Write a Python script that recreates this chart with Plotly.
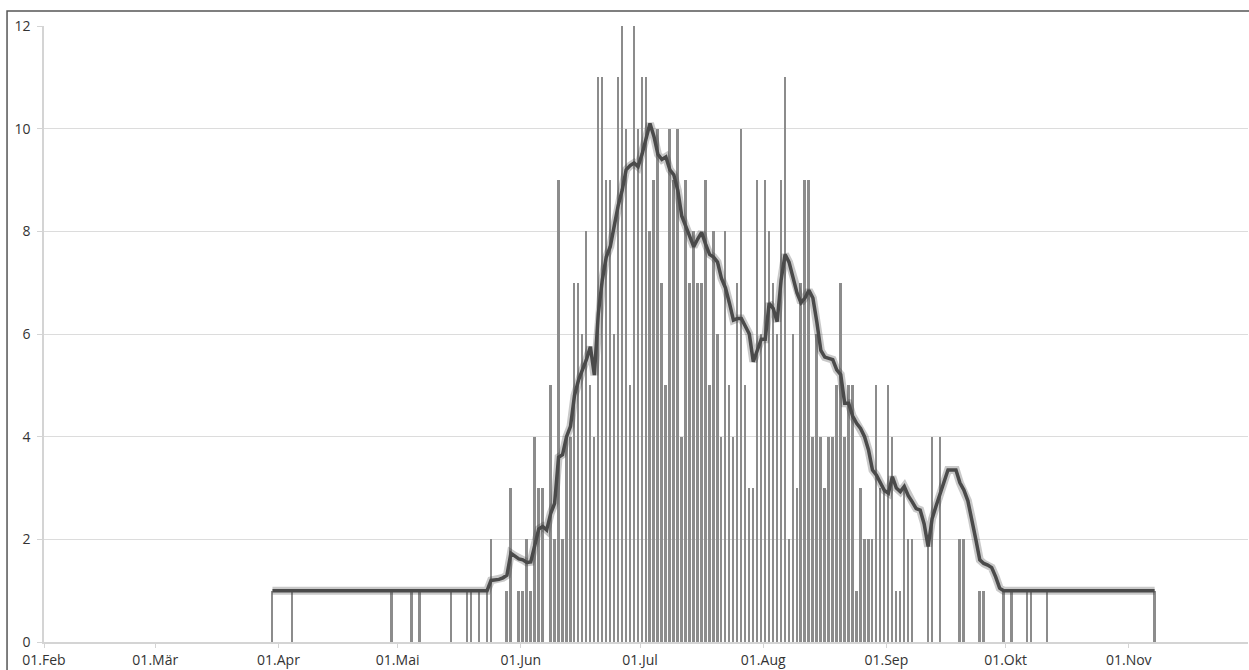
import datetime as dt
import plotly.graph_objects as go

YEAR = 2023

# ---- daily counts (bars), one list per month; first day of each list given ----
counts_mar = [1, 0]  # starts 30.03.
counts_apr = [0, 0, 0, 1, 0, 0, 0, 0, 0, 0, 0, 0, 0, 0, 0, 0, 0, 0, 0, 0,
              0, 0, 0, 0, 0, 0, 0, 0, 1, 0]
counts_mai = [0, 0, 0, 1, 0, 1, 0, 0, 0, 0, 0, 0, 0, 1, 0, 0, 0, 1, 1, 0,
              1, 0, 1, 2, 0, 0, 0, 1, 3, 0, 1]
counts_jun = [1, 2, 1, 4, 3, 3, 0, 5, 2, 9, 2, 4, 4, 7, 7, 6, 8, 5, 4, 11,
              11, 9, 9, 6, 11, 12, 10, 5, 12, 10]
counts_jul = [11, 11, 8, 9, 10, 7, 5, 10, 9, 10, 4, 9, 7, 8, 7, 7, 9, 5, 8, 6,
              4, 8, 5, 4, 7, 10, 5, 3, 3, 9, 6]
counts_aug = [9, 8, 7, 6, 9, 11, 2, 6, 3, 7, 9, 9, 4, 6, 4, 3, 4, 4, 5, 7,
              4, 5, 5, 1, 3, 2, 2, 2, 5, 3, 3]
counts_sep = [5, 4, 1, 1, 3, 2, 2, 0, 0, 0, 2, 4, 0, 4, 0, 0, 0, 0, 2, 2,
              0, 0, 0, 1, 1, 0, 0, 0, 0, 1]
counts_okt = [0, 1, 0, 0, 0, 1, 1, 0, 0, 0, 1, 0, 0, 0, 0, 0, 0, 0, 0, 0,
              0, 0, 0, 0, 0, 0, 0, 0, 0, 0, 0]
counts_nov = [0, 0, 0, 0, 0, 0, 1]

month_blocks = [
    ((3, 30), counts_mar), ((4, 1), counts_apr), ((5, 1), counts_mai),
    ((6, 1), counts_jun), ((7, 1), counts_jul), ((8, 1), counts_aug),
    ((9, 1), counts_sep), ((10, 1), counts_okt), ((11, 1), counts_nov),
]

# ---- moving average line ----
line_days = [
    "03-30", "05-23", "05-24", "05-26", "05-27", "05-28", "05-29", "05-30", "05-31",
    "06-01", "06-02", "06-03", "06-04", "06-05", "06-06", "06-07", "06-08", "06-09",
    "06-10", "06-11", "06-12", "06-13", "06-14", "06-15", "06-16", "06-17", "06-18",
    "06-19", "06-20", "06-21", "06-22", "06-23", "06-24", "06-25", "06-26", "06-27",
    "06-28", "06-29", "06-30", "07-01", "07-02", "07-03", "07-04", "07-05", "07-06",
    "07-07", "07-08", "07-09", "07-10", "07-11", "07-12", "07-13", "07-14", "07-15",
    "07-16", "07-17", "07-18", "07-19", "07-20", "07-21", "07-22", "07-23", "07-24",
    "07-25", "07-26", "07-27", "07-28", "07-29", "07-30", "07-31", "08-01", "08-02",
    "08-03", "08-04", "08-05", "08-06", "08-07", "08-08", "08-09", "08-10", "08-11",
    "08-12", "08-13", "08-14", "08-15", "08-16", "08-17", "08-18", "08-19", "08-20",
    "08-21", "08-22", "08-23", "08-24", "08-25", "08-26", "08-27", "08-28", "08-29",
    "08-30", "08-31", "09-01", "09-02", "09-03", "09-04", "09-05", "09-06", "09-07",
    "09-08", "09-09", "09-10", "09-11", "09-12", "09-13", "09-14", "09-15", "09-16",
    "09-17", "09-18", "09-19", "09-20", "09-21", "09-22", "09-23", "09-24", "09-25",
    "09-26", "09-27", "09-28", "09-29", "09-30", "11-07",
]
line_values = [
    1.0, 1.0, 1.2, 1.22, 1.25, 1.3, 1.73, 1.68, 1.62,
    1.6, 1.55, 1.56, 1.9, 2.2, 2.25, 2.18, 2.5, 2.7,
    3.6, 3.65, 4.0, 4.2, 4.8, 5.1, 5.3, 5.5, 5.75,
    5.2, 6.4, 7.05, 7.5, 7.7, 8.1, 8.5, 8.8, 9.2,
    9.28, 9.33, 9.26, 9.5, 9.8, 10.1, 9.85, 9.5, 9.4,
    9.45, 9.2, 9.1, 8.8, 8.3, 8.1, 7.9, 7.7, 7.85,
    7.98, 7.75, 7.55, 7.5, 7.4, 7.08, 6.9, 6.6, 6.27,
    6.3, 6.3, 6.15, 6.0, 5.46, 5.7, 5.9, 5.9, 6.6,
    6.5, 6.24, 7.05, 7.55, 7.4, 7.1, 6.8, 6.61, 6.7,
    6.85, 6.7, 6.23, 5.68, 5.55, 5.53, 5.5, 5.3, 5.21,
    4.65, 4.65, 4.4, 4.26, 4.16, 4.0, 3.74, 3.35, 3.25,
    3.09, 2.95, 2.9, 3.22, 3.0, 2.93, 3.03, 2.85, 2.73,
    2.6, 2.57, 2.3, 1.86, 2.4, 2.65, 2.9, 3.1, 3.35,
    3.35, 3.35, 3.1, 2.96, 2.75, 2.4, 2.0, 1.6, 1.53,
    1.5, 1.45, 1.27, 1.05, 1.0, 1.0,
]

tick_months = [2, 3, 4, 5, 6, 7, 8, 9, 10, 11]
tick_labels = ["01.Feb", "01.Mär", "01.Apr", "01.Mai", "01.Jun",
               "01.Jul", "01.Aug", "01.Sep", "01.Okt", "01.Nov"]

HALF_DAY = dt.timedelta(hours=12)

bar_x, bar_y = [], []
for (m, d), vals in month_blocks:
    start = dt.datetime(YEAR, m, d)
    for k, v in enumerate(vals):
        if v > 0:
            bar_x.append(start + dt.timedelta(days=k) + HALF_DAY)
            bar_y.append(v)

line_x = [dt.datetime.strptime(f"{YEAR}-{s}", "%Y-%m-%d") + HALF_DAY for s in line_days]

fig = go.Figure()
fig.add_trace(go.Bar(x=bar_x, y=bar_y, width=0.5 * 86400000,
                     marker=dict(color="#8c8c8c", line=dict(width=0)),
                     hoverinfo="x+y"))
fig.add_trace(go.Scatter(x=line_x, y=line_values, mode="lines",
                         line=dict(color="rgba(60,60,60,0.28)", width=8),
                         hoverinfo="skip"))
fig.add_trace(go.Scatter(x=line_x, y=line_values, mode="lines",
                         line=dict(color="#4a4a4a", width=3.5)))

font = dict(family="Open Sans", size=14, color="#333333")
fig.update_layout(
    width=1249, height=670,
    margin=dict(l=44, r=1, t=26, b=28),
    paper_bgcolor="white", plot_bgcolor="white",
    showlegend=False, bargap=0,
    font=font,
    xaxis=dict(
        type="date",
        range=[dt.datetime(YEAR, 2, 1), dt.datetime(YEAR, 12, 1)],
        tickvals=[dt.datetime(YEAR, m, 1) for m in tick_months],
        ticktext=tick_labels,
        showgrid=False, showline=True, linecolor="#d4d4d4", linewidth=1.5,
        ticks="outside", ticklen=4, tickcolor="#d4d4d4", tickwidth=1,
        tickfont=font, zeroline=False,
    ),
    yaxis=dict(
        range=[0, 12], dtick=2, tick0=0,
        showgrid=True, gridcolor="#dcdcdc", gridwidth=1,
        showline=True, linecolor="#d4d4d4", linewidth=1.5,
        ticks="outside", ticklen=5, tickcolor="#d4d4d4",
        ticklabelstandoff=4,
        tickfont=font, zeroline=False,
    ),
    shapes=[dict(type="rect", xref="paper", yref="paper",
                 x0=-0.0307, x1=1.2, y0=-0.3, y1=1.0244,
                 line=dict(color="#555555", width=1.5), layer="above")],
)

fig.write_html("out.html", config={"displayModeBar": False})
